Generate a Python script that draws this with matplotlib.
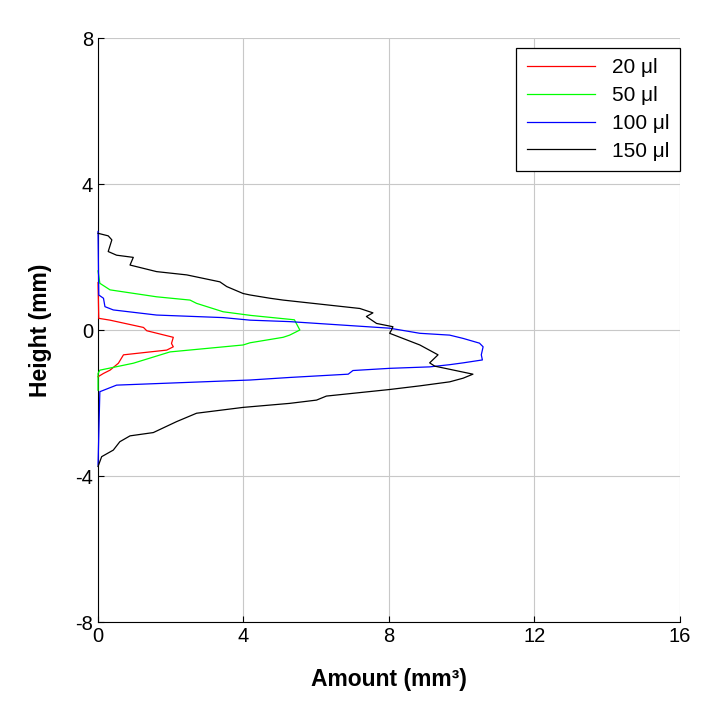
import matplotlib
matplotlib.use("Agg")
import matplotlib.pyplot as plt

plt.rcParams['font.family'] = ['Liberation Sans', 'DejaVu Sans']
plt.rcParams['axes.unicode_minus'] = False

# 20 ul
red_h = [1.30, 0.32, 0.27, 0.07, -0.02, -0.20, -0.37, -0.46, -0.55, -0.68, -0.91, -1.10, -1.19, -1.28]
red_v = [0.0, 0.02, 0.33, 1.25, 1.34, 2.07, 2.02, 2.07, 1.89, 0.70, 0.56, 0.33, 0.15, 0.0]

# 50 ul
green_h = [1.62, 1.28, 1.10, 0.91, 0.82, 0.73, 0.50, 0.40, 0.32, 0.28, 0.0, -0.14, -0.20,
           -0.35, -0.41, -0.60, -0.91, -1.10, -1.19, -1.65]
green_v = [0.0, 0.05, 0.33, 1.61, 2.53, 2.71, 3.44, 4.20, 5.00, 5.40, 5.55, 5.27, 5.09,
           4.18, 3.99, 1.98, 0.97, 0.05, 0.0, 0.0]

# 100 ul
blue_h = [2.70, 0.96, 0.87, 0.64, 0.55, 0.41, 0.34, 0.27, 0.23, 0.05, -0.09, -0.14, -0.23,
          -0.36, -0.46, -0.68, -0.82, -0.90, -0.95, -1.01, -1.05, -1.11, -1.21, -1.30,
          -1.37, -1.51, -1.69, -3.70]
blue_v = [0.0, 0.02, 0.15, 0.19, 0.42, 1.61, 3.44, 4.18, 5.27, 8.02, 8.85, 9.67, 10.04,
          10.49, 10.59, 10.54, 10.57, 10.04, 9.67, 9.12, 8.02, 7.01, 6.88, 5.27,
          4.18, 0.51, 0.05, 0.0]

# 150 ul
black_h = [2.65, 2.58, 2.47, 2.15, 2.05, 1.99, 1.78, 1.60, 1.51, 1.32, 1.19, 1.00, 0.96,
           0.87, 0.82, 0.59, 0.47, 0.37, 0.18, 0.09, 0.0, -0.09, -0.41, -0.68, -0.90,
           -0.99, -1.21, -1.32, -1.42, -1.53, -1.63, -1.81, -1.92, -2.01, -2.12, -2.28,
           -2.51, -2.81, -2.90, -3.06, -3.29, -3.47, -3.74]
black_v = [0.0, 0.28, 0.38, 0.28, 0.51, 0.97, 0.88, 1.61, 2.44, 3.35, 3.54, 3.99, 4.18,
           4.73, 5.09, 7.20, 7.56, 7.38, 7.66, 8.11, 8.07, 8.02, 8.85, 9.35, 9.12,
           9.26, 10.31, 10.04, 9.67, 8.85, 8.02, 6.28, 6.01, 5.27, 3.99, 2.71,
           2.16, 1.52, 0.88, 0.60, 0.42, 0.10, 0.0]

labels = ["20 \u03bcl", "50 \u03bcl", "100 \u03bcl", "150 \u03bcl"]
x_ticks = [0, 4, 8, 12, 16]
y_ticks = [-8, -4, 0, 4, 8]

fig = plt.figure(figsize=(7.24, 7.12), dpi=100)
ax = fig.add_axes([0.1354, 0.1264, 0.8036, 0.8202])

# lines sit on top of the axis line, as in the original
ax.plot(red_v, red_h, color='#ff0000', lw=0.9, label=labels[0], zorder=3, clip_on=False)
ax.plot(green_v, green_h, color='#00ff00', lw=0.9, label=labels[1], zorder=3, clip_on=False)
ax.plot(blue_v, blue_h, color='#0000ff', lw=0.9, label=labels[2], zorder=3, clip_on=False)
ax.plot(black_v, black_h, color='black', lw=0.9, label=labels[3], zorder=3, clip_on=False)

ax.set_xlim(0, 16)
ax.set_ylim(-8, 8)
ax.set_xticks(x_ticks)
ax.set_yticks(y_ticks)
ax.grid(True, color='#c8c8c8', lw=0.8)
ax.set_axisbelow(True)
ax.spines['top'].set_visible(False)
ax.spines['right'].set_visible(False)
ax.tick_params(direction='in', length=4, labelsize=14.5, width=0.8)

ax.set_xlabel("Amount (mm\u00b3)", fontsize=16.5, fontweight='bold', labelpad=16)
ax.set_ylabel("Height (mm)", fontsize=16.5, fontweight='bold', labelpad=17)

leg = ax.legend(loc='upper right', bbox_to_anchor=(1.0, 1 - 10 / 584), borderaxespad=0,
                fontsize=15, fancybox=False, framealpha=1, edgecolor='black',
                handlelength=3.3, labelspacing=0.42, borderpad=0.5)
leg.get_frame().set_linewidth(0.9)

fig.savefig("out.png", dpi=100)
